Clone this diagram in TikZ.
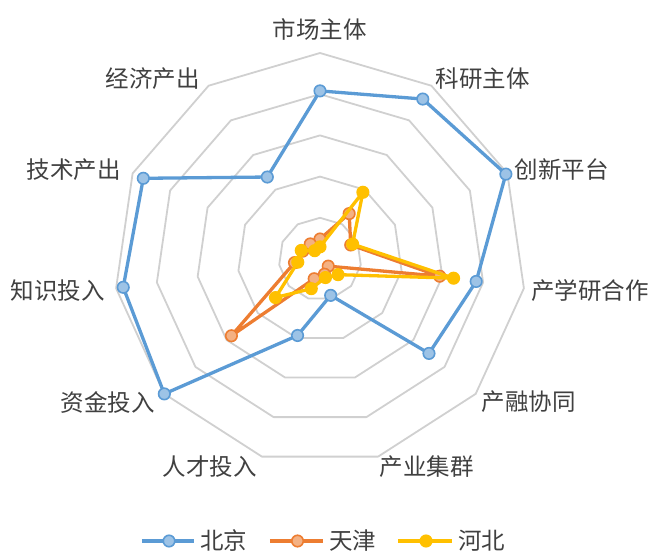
\documentclass[tikz,border=0pt]{standalone}
\usepackage{fontspec}
\newfontfamily\cjk{Noto Sans CJK SC}
\usepackage{tikz}
\usetikzlibrary{positioning}
\usepackage{xcolor}
\definecolor{bjblue}{RGB}{91,155,213}
\definecolor{bjfill}{RGB}{157,195,230}
\definecolor{tjorange}{RGB}{237,125,49}
\definecolor{tjfill}{RGB}{244,177,131}
\definecolor{hbyellow}{RGB}{255,192,0}
\definecolor{ringgray}{RGB}{208,208,208}
\definecolor{lblgray}{RGB}{64,64,64}
\tikzset{
  ring/.style={draw=ringgray, line width=1.8pt, line join=round},
  lbl/.style={font=\cjk\fontsize{23.5}{26}\selectfont, text=lblgray, inner sep=0pt},
  series/.style={line width=3.3pt, line join=round},
  dot/.style={circle, inner sep=0pt, minimum size=11.5pt, line width=1.6pt},
  bjmark/.style={dot, draw=bjblue, fill=bjfill},
  tjmark/.style={dot, draw=tjorange, fill=tjfill},
  hbmark/.style={dot, draw=hbyellow, fill=hbyellow},
}
\def\rad{206}
\def\bjdata{0.816,0.923,0.992,0.766,0.70,0.184,0.387,1.0,0.965,0.943,0.473}
\def\tjdata{0.097,0.262,0.164,0.587,0.053,0.077,0.10,0.569,0.125,0.092,0.087}
\def\hbdata{0.059,0.385,0.174,0.655,0.116,0.094,0.15,0.286,0.109,0.10,0.048}

\begin{document}
\begin{tikzpicture}[x=1pt, y=1pt]
    \useasboundingbox (-320,-294) rectangle (334,259);

    % Grid rings
    \foreach \ring in {1,...,5}
        \draw[ring] (90:{\ring*\rad/5}) \foreach \k in {1,...,10}{ -- ({90-\k*360/11}:{\ring*\rad/5}) } -- cycle;

    % Axis labels
    \foreach \txt/\lx/\ly [count=\i from 0] in {市场主体/0/230, 科研主体/163/180.5, 创新平台/242/89,
        产学研合作/270/-32, 产融协同/209/-143, 产业集群/107/-208, 人才投入/-110/-208,
        资金投入/-212/-143, 知识投入/-262/-32, 技术产出/-246/89, 经济产出/-167/180.5}
        \node[lbl] (l\i) at (\lx,\ly) {\txt};

    % Data points
    \foreach \v [count=\k from 0] in \bjdata
        \coordinate (bj\k) at ({90-\k*360/11}:{\v*\rad});
    \foreach \v [count=\k from 0] in \tjdata
        \coordinate (tj\k) at ({90-\k*360/11}:{\v*\rad});
    \foreach \v [count=\k from 0] in \hbdata
        \coordinate (hb\k) at ({90-\k*360/11}:{\v*\rad});

    % Beijing
    \draw[series, bjblue] (bj0) \foreach \k in {1,...,10}{ -- (bj\k) } -- cycle;
    \foreach \k in {0,...,10} \node[bjmark] (bjm\k) at (bj\k) {};

    % Tianjin
    \draw[series, tjorange] (tj0) \foreach \k in {1,...,10}{ -- (tj\k) } -- cycle;
    \foreach \k in {0,...,10} \node[tjmark] (tjm\k) at (tj\k) {};

    % Hebei
    \draw[series, hbyellow] (hb0) \foreach \k in {1,...,10}{ -- (hb\k) } -- cycle;
    \foreach \k in {0,...,10} \node[hbmark] (hbm\k) at (hb\k) {};

    % Legend
    \coordinate (bjs) at (-178,-282);
    \coordinate[right=52pt of bjs] (bje);
    \node[lbl, right=6pt of bje] (bjt) {北京};
    \draw[series, bjblue] (bjs) -- (bje);
    \node[bjmark, right=20.5pt of bjs] (bjk) {};

    \coordinate (tjs) at (-50,-282);
    \coordinate[right=53pt of tjs] (tje);
    \node[lbl, right=6pt of tje] (tjt) {天津};
    \draw[series, tjorange] (tjs) -- (tje);
    \node[tjmark, right=21pt of tjs] (tjk) {};

    \coordinate (hbs) at (78,-282);
    \coordinate[right=54pt of hbs] (hbe);
    \node[lbl, right=6pt of hbe] (hbt) {河北};
    \draw[series, hbyellow] (hbs) -- (hbe);
    \node[hbmark, right=21.5pt of hbs] (hbk) {};
\end{tikzpicture}
\end{document}
